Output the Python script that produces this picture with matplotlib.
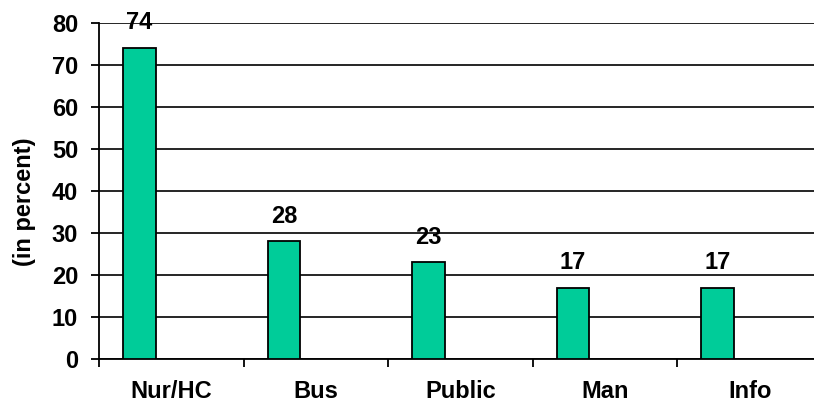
import numpy as np
import matplotlib.pyplot as plt

categories = ['Nur/HC', 'Bus', 'Public', 'Man', 'Info']
values = [74, 28, 23, 17, 17]

plt.rcParams['font.family'] = ['Liberation Sans', 'DejaVu Sans']
plt.rcParams['font.weight'] = 'bold'

fig = plt.figure(figsize=(8.14, 4.07), dpi=100)
ax = fig.add_axes([99 / 814, 1 - 359 / 407, 723 / 814, 336 / 407])

x = np.arange(len(categories))
# bars sit in the left part of each category slot (Excel style)
bars = ax.bar(x - 0.5 + 0.166, values, width=0.225, align='edge',
              color='#00CC99', edgecolor='black', linewidth=1.3, zorder=3)

for rect, v in zip(bars, values):
    ax.annotate(str(v), (rect.get_x() + rect.get_width() / 2, v),
                xytext=(0, 10), textcoords='offset points',
                ha='center', va='bottom', fontsize=17, fontweight='bold',
                zorder=4, annotation_clip=False)

ax.set_xlim(-0.5, len(categories) - 0.5)
ax.set_ylim(0, 80)
ax.set_yticks(np.arange(0, 81, 10))
ax.yaxis.grid(True, color='black', linewidth=1.2, zorder=0)
ax.set_axisbelow(True)

ax.set_xticks(np.arange(len(categories) + 1) - 0.5)
ax.set_xticklabels([])
ax.set_xticks(x, minor=True)
ax.set_xticklabels(categories, minor=True, fontsize=17, fontweight='bold')
ax.tick_params(axis='x', which='major', direction='out', length=6, width=1.3)
ax.tick_params(axis='x', which='minor', length=0, pad=15)
ax.tick_params(axis='y', direction='out', length=6, width=1.3, pad=9,
               labelsize=17)
for lab in ax.get_yticklabels():
    lab.set_fontweight('bold')

for side in ['top', 'right']:
    ax.spines[side].set_visible(False)
ax.spines['left'].set_linewidth(1.3)
ax.spines['bottom'].set_linewidth(1.3)

fig.text(25 / 814, 1 - 202 / 407, '(in percent)', rotation=90,
         ha='center', va='center', fontsize=17, fontweight='bold')

fig.savefig('out.png', dpi=100)
